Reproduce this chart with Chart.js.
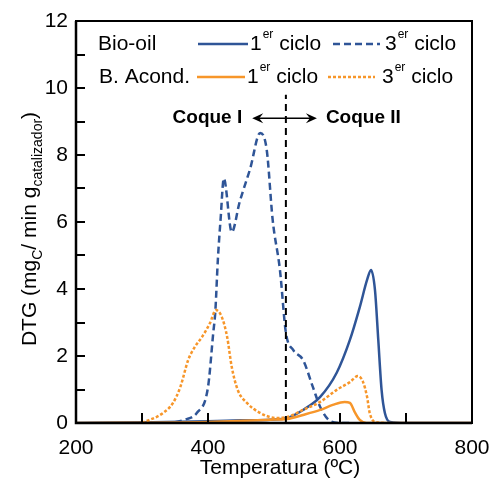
<!DOCTYPE html>
<html>
<head>
<meta charset="utf-8">
<script src="https://cdn.jsdelivr.net/npm/chart.js@4.4.1/dist/chart.umd.min.js"></script>
<style>
  html, body { margin: 0; padding: 0; background: #fff; }
  #wrap { width: 491px; height: 484px; }
</style>
</head>
<body>
<div id="wrap"><canvas id="dtgChart" width="491" height="484"></canvas></div>
<script>
// ── DTG curves: temperature (ºC) vs. rate (mg_C / min g_catalizador) ─────────

const xTicks = [200, 400, 600, 800];
const yTicks = [0, 2, 4, 6, 8, 10, 12];
const xMinorTicks = [300, 400, 600, 700];

// Bio-oil, 1er ciclo
const bioOil1T = [200, 300, 400, 450, 494, 520, 544, 570, 595, 615, 630, 641, 647, 653, 658, 663, 668, 676, 700, 800];
const bioOil1 = [0, 0.02, 0.05, 0.08, 0.1, 0.15, 0.39, 0.78, 1.5, 2.48, 3.46, 4.27, 4.57, 3.97, 2.48, 0.99, 0.3, 0.03, 0, 0];

// Bio-oil, 3er ciclo
const bioOil3T = [300, 347, 365, 383, 400, 408, 411, 415, 419, 424, 436, 448, 464, 479, 489, 498, 509, 518, 529, 544, 559, 570, 585, 600, 620];
const bioOil3 = [0, 0.02, 0.1, 0.3, 1.07, 2.7, 3.3, 4.9, 6.06, 7.3, 5.7, 6.6, 7.6, 8.66, 8.15, 6.06, 4.57, 2.7, 2.18, 1.88, 1.07, 0.48, 0.06, 0, 0];

// B. Acond., 1er ciclo
const acond1T = [200, 400, 494, 520, 544, 570, 589, 607, 615, 623, 630, 640, 800];
const acond1 = [0, 0.03, 0.1, 0.12, 0.24, 0.39, 0.54, 0.63, 0.6, 0.3, 0.09, 0, 0];

// B. Acond., 3er ciclo
const acond3T = [300, 332, 347, 358, 370, 380, 391, 403, 412, 421, 429, 436, 445, 459, 479, 504, 520, 544, 570, 595, 615, 627, 635, 641, 645, 653, 670];
const acond3 = [0, 0.3, 0.6, 1.07, 1.88, 2.27, 2.57, 2.98, 3.37, 3.16, 2.57, 1.67, 0.99, 0.6, 0.3, 0.15, 0.18, 0.39, 0.63, 0.99, 1.22, 1.4, 1.22, 0.78, 0.3, 0.03, 0];

// Coque I / Coque II split and arrow
const splitT = 518;
const splitTop = 9.8;
const arrowT = [467, 565];
const arrowY = 9.1;

const BLUE = "#2f5597";
const ORANGE = "#f7962a";
const FONT = "'Liberation Sans', Arial, sans-serif";

const pts = (xs, ys) => xs.map((x, i) => ({ x, y: ys[i] }));

const series = [
  { label: "B. Acond. 1er ciclo", t: acond1T, v: acond1, color: ORANGE, dash: [] },
  { label: "B. Acond. 3er ciclo", t: acond3T, v: acond3, color: ORANGE, dash: [3, 2] },
  { label: "Bio-oil 3er ciclo", t: bioOil3T, v: bioOil3, color: BLUE, dash: [7, 4] },
  { label: "Bio-oil 1er ciclo", t: bioOil1T, v: bioOil1, color: BLUE, dash: [] },
];

const datasets = series.map((s) => ({
  label: s.label,
  data: pts(s.t, s.v),
  borderColor: s.color,
  borderDash: s.dash,
  borderWidth: 2.5,
  pointRadius: 0,
  fill: false,
  cubicInterpolationMode: "monotone",
}));

// Frame, inward ticks, legend, annotations and y title
const decorations = {
  id: "decorations",
  afterDraw(chart) {
    const { ctx, chartArea: a, scales } = chart;
    const xs = scales.x, ys = scales.y;
    ctx.save();

    // frame
    ctx.strokeStyle = "#000";
    ctx.lineWidth = 2;
    ctx.strokeRect(a.left, a.top, a.right - a.left, a.bottom - a.top);
    ctx.lineWidth = 2.5;
    ctx.beginPath();
    ctx.moveTo(a.left, a.top);
    ctx.lineTo(a.left, a.bottom);
    ctx.lineTo(a.right, a.bottom);
    ctx.stroke();

    // inward ticks
    ctx.lineWidth = 2;
    for (let v = 1; v < 12; v++) {
      const y = Math.round(ys.getPixelForValue(v));
      ctx.beginPath();
      ctx.moveTo(a.left, y);
      ctx.lineTo(a.left + 9, y);
      ctx.stroke();
    }
    xMinorTicks.forEach((t) => {
      const x = Math.round(xs.getPixelForValue(t));
      ctx.beginPath();
      ctx.moveTo(x, a.bottom);
      ctx.lineTo(x, a.bottom - 10);
      ctx.stroke();
    });

    // Coque I / II separator
    const sx = xs.getPixelForValue(splitT);
    ctx.setLineDash([7, 5]);
    ctx.lineWidth = 2;
    ctx.beginPath();
    ctx.moveTo(sx, a.bottom);
    ctx.lineTo(sx, ys.getPixelForValue(splitTop));
    ctx.stroke();
    ctx.setLineDash([]);

    // double arrow
    const ay = ys.getPixelForValue(arrowY);
    const ax0 = xs.getPixelForValue(arrowT[0]);
    const ax1 = xs.getPixelForValue(arrowT[1]);
    ctx.lineWidth = 1.5;
    ctx.beginPath();
    ctx.moveTo(ax0 + 4, ay);
    ctx.lineTo(ax1 - 4, ay);
    ctx.stroke();
    ctx.fillStyle = "#000";
    [[ax0, 1], [ax1, -1]].forEach(([x, d]) => {
      ctx.beginPath();
      ctx.moveTo(x, ay);
      ctx.lineTo(x + d * 11, ay - 5);
      ctx.lineTo(x + d * 7, ay);
      ctx.lineTo(x + d * 11, ay + 5);
      ctx.closePath();
      ctx.fill();
    });

    ctx.font = "bold 19px " + FONT;
    ctx.textBaseline = "middle";
    ctx.textAlign = "right";
    ctx.fillText("Coque I", ax0 - 10, ay);
    ctx.textAlign = "left";
    ctx.fillText("Coque II", ax1 + 9, ay);

    // legend
    const sup = (txt, x, y) => {
      ctx.font = "21px " + FONT;
      ctx.fillText(txt[0], x, y);
      x += ctx.measureText(txt[0]).width;
      ctx.font = "12px " + FONT;
      ctx.fillText("er", x + 1, y - 9);
      x += ctx.measureText("er").width + 1;
      ctx.font = "21px " + FONT;
      ctx.fillText(" ciclo", x, y);
    };
    const sample = (x0, x1, y, color, dash) => {
      ctx.strokeStyle = color;
      ctx.lineWidth = 2.5;
      ctx.setLineDash(dash);
      ctx.beginPath();
      ctx.moveTo(x0, y);
      ctx.lineTo(x1, y);
      ctx.stroke();
      ctx.setLineDash([]);
    };
    ctx.fillStyle = "#000";
    ctx.textAlign = "left";
    ctx.textBaseline = "middle";
    const r1 = a.top + 23, r2 = a.top + 56;
    ctx.font = "21px " + FONT;
    ctx.fillText("Bio-oil", a.left + 22, r1);
    ctx.fillText("B. Acond.", a.left + 23, r2);
    sample(a.left + 122, a.left + 172, r1, BLUE, []);
    sup("1", a.left + 174, r1);
    sample(a.left + 257, a.left + 304, r1, BLUE, [7, 4]);
    sup("3", a.left + 309, r1);
    sample(a.left + 121, a.left + 169, r2, ORANGE, []);
    sup("1", a.left + 171, r2);
    sample(a.left + 252, a.left + 299, r2, ORANGE, [3, 2]);
    sup("3", a.left + 306, r2);

    // x title
    ctx.fillStyle = "#000";
    ctx.font = "21px " + FONT;
    ctx.textAlign = "center";
    ctx.fillText("Temperatura (ºC)", (a.left + a.right) / 2 + 6, 468);

    // y title with subscripts
    const parts = [
      { t: "DTG (mg", s: 21, dy: 0 },
      { t: "C", s: 14, dy: 8 },
      { t: "/ min g", s: 21, dy: 0 },
      { t: "catalizador", s: 14, dy: 8 },
      { t: ")", s: 21, dy: 0 },
    ];
    let total = 0;
    parts.forEach((p) => {
      ctx.font = p.s + "px " + FONT;
      p.w = ctx.measureText(p.t).width;
      total += p.w;
    });
    ctx.translate(30, 229);
    ctx.rotate(-Math.PI / 2);
    ctx.textAlign = "left";
    let px = -total / 2;
    parts.forEach((p) => {
      ctx.font = p.s + "px " + FONT;
      ctx.fillText(p.t, px, p.dy);
      px += p.w;
    });

    ctx.restore();
  },
};

const ctx = document.getElementById("dtgChart").getContext("2d");
new Chart(ctx, {
  type: "line",
  data: { datasets },
  options: {
    responsive: false,
    animation: false,
    layout: { padding: { top: 21, right: 19, bottom: 0, left: 0 } },
    plugins: {
      legend: { display: false },
      tooltip: { enabled: false },
    },
    scales: {
      x: {
        type: "linear",
        min: 200,
        max: 800,
        afterFit: (s) => { s.height = 61; s.paddingLeft = 0; s.paddingRight = 0; },
        afterBuildTicks: (s) => { s.ticks = xTicks.map((v) => ({ value: v })); },
        grid: { display: false, drawTicks: false },
        border: { display: false },
        ticks: {
          color: "#000",
          padding: 13,
          maxRotation: 0,
          font: { family: FONT, size: 21 },
        },
      },
      y: {
        min: 0,
        max: 12,
        afterFit: (s) => { s.width = 76; s.paddingTop = 0; s.paddingBottom = 0; },
        afterBuildTicks: (s) => { s.ticks = yTicks.map((v) => ({ value: v })); },
        grid: { display: false, drawTicks: false },
        border: { display: false },
        ticks: {
          color: "#000",
          padding: 8,
          font: { family: FONT, size: 21 },
        },
      },
    },
  },
  plugins: [decorations],
});
</script>
</body>
</html>
